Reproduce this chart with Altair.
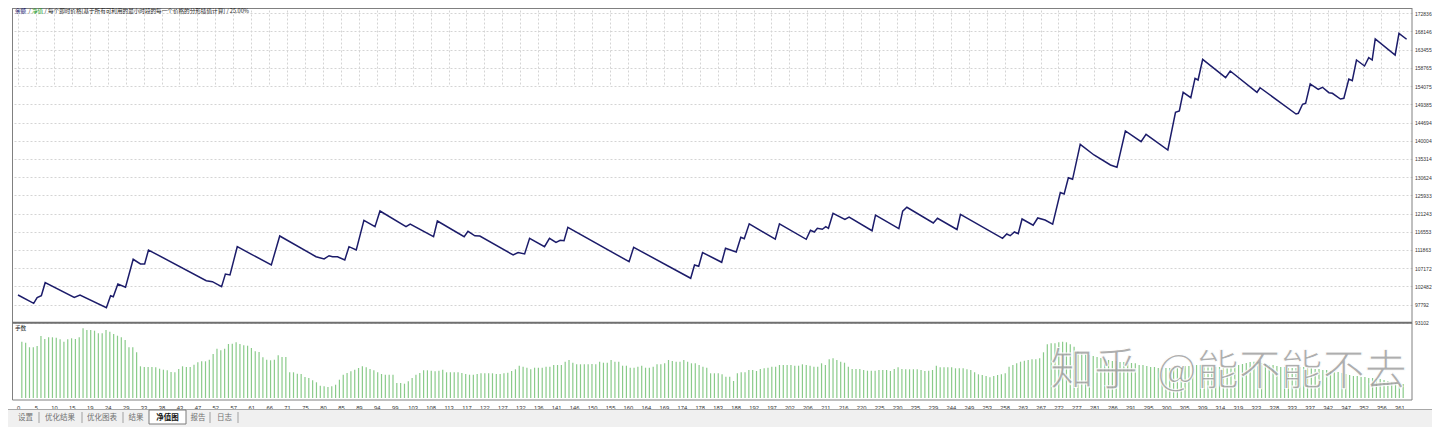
import json
import altair as alt
import pandas as pd

# ---------------- data ----------------
# equity curve vertices: trade number / equity
eq_trade = [0.0, 4.1, 5.0, 6.1, 7.1, 14.7, 16.2, 23.1, 24.2, 24.9,
            26.1, 28.1, 30.1, 32.0, 33.1, 34.1, 49.2, 50.8, 53.2, 54.2,
            55.4, 57.3, 66.2, 68.4, 77.9, 80.0, 81.3, 82.2, 83.5, 85.4,
            86.5, 88.4, 90.4, 93.3, 94.6, 101.4, 102.5, 108.6, 109.6, 116.6,
            117.6, 119.4, 120.7, 129.4, 130.7, 132.4, 133.7, 137.6, 138.9, 140.6,
            141.7, 142.7, 143.7, 159.7, 160.9, 175.8, 176.8, 177.9, 178.9, 183.9,
            184.9, 187.7, 188.9, 189.8, 191.1, 197.9, 199.0, 206.0, 207.1, 208.1,
            208.9, 210.2, 211.1, 211.8, 213.0, 216.1, 217.2, 223.2, 224.1, 230.2,
            231.2, 232.3, 239.2, 240.3, 245.4, 246.3, 257.3, 258.4, 259.3, 260.4,
            261.4, 262.4, 265.3, 266.5, 268.4, 270.4, 272.4, 273.4, 274.5, 275.6,
            277.6, 281.2, 285.5, 287.2, 289.4, 293.5, 294.8, 300.5, 302.5, 303.5,
            304.5, 306.5, 307.6, 308.4, 309.6, 315.6, 316.8, 323.8, 324.6, 334.0,
            334.6, 335.7, 336.5, 337.7, 339.8, 340.9, 342.6, 343.5, 345.6, 346.5,
            347.8, 348.7, 349.8, 351.9, 353.0, 353.9, 354.7, 359.9, 360.9, 362.9]
eq_value = [100240, 98100, 99550, 100060, 103410, 99600, 100240, 96970, 100060, 99800,
            103080, 102230, 109440, 108230, 108230, 111840, 103930, 103670, 102380, 105650,
            105400, 112690, 107970, 115450, 110110, 109520, 110370, 110110, 110110, 109260,
            112690, 111840, 119490, 117840, 121890, 117840, 118490, 115270, 119310, 115270,
            116660, 115500, 115450, 110550, 111190, 110810, 114850, 112690, 114850, 113820,
            114340, 114210, 117690, 108820, 112530, 104550, 107970, 107640, 111190, 108670,
            112280, 111320, 115110, 114750, 118590, 114620, 118590, 114600, 116920, 116480,
            117430, 117170, 117840, 117430, 121300, 119750, 120340, 116810, 120810, 117330,
            121840, 122840, 118800, 120010, 117120, 121040, 114850, 115960, 115520, 116480,
            116040, 119830, 118230, 120090, 119570, 118490, 126660, 126270, 130470, 130060,
            139080, 136320, 133740, 133150, 142510, 139750, 141650, 137610, 147320, 147660,
            152480, 151090, 156090, 155650, 160980, 156240, 157970, 152480, 153660, 146890,
            147070, 149390, 149640, 154620, 153250, 153770, 152380, 152220, 150750, 150930,
            155910, 155470, 160800, 159260, 161390, 160800, 166210, 162090, 167680, 166140]

# lower panel (手数), one bar per trade, relative units
lots_1 = [56.3, 55.3, 50.7, 50.7, 52, 62, 59, 60.7, 60.7, 60.3,
          58.7, 56.3, 58.7, 59.7, 59, 60.7, 69.7, 68, 68, 67.3,
          64.7, 64.7, 68, 66.3, 64, 62.3, 60.7, 58, 50.7, 50.7,
          45.7, 31.7, 31, 31, 31, 30.7, 29.3, 28.3, 27.7, 26,
          25.7, 29, 31.7, 31, 31, 33.3, 35.7, 36.7, 36.7, 38.3,
          44, 49.3, 47.7, 49.3, 54, 54.3, 55.7, 54, 52.7, 52.3,
          50, 46.7, 46, 40.7, 38.3, 37.7, 38.3, 42.7, 41, 41,
          25.7, 25.7, 24.3, 24, 21, 20, 17.7, 15.7, 12.3, 11.7,
          11, 11.7, 13.3, 18.3, 23.3, 25, 26.7, 28.3, 30, 31.7,
          30.7, 29, 27.7, 25.7, 24, 23.3, 23.3, 23.3, 15, 15,
          14.3, 16.7, 20, 23.3, 25, 27.7, 27.7, 27.3, 26.7, 27.3,
          28.3, 25.7, 25.7, 25.7, 25.7, 25, 24, 23.3, 23.3, 24]
lots_2 = [24.7, 24.7, 24.7, 24.7, 24, 24, 24.7, 25.3, 27, 28.7,
          32.3, 31.3, 30.3, 28.7, 30.3, 30.3, 30.3, 31.3, 31.3, 33,
          33, 33, 36.3, 38, 35.3, 33.7, 33.7, 33.7, 33.7, 34,
          33.7, 36.3, 35.3, 35.3, 38, 36.3, 36.3, 32.3, 32.3, 30.3,
          30.3, 31.3, 32.3, 30.3, 30.3, 31.3, 33.7, 33.7, 34.7, 38,
          37, 36.3, 36.3, 38, 36.3, 34.7, 34.7, 33, 31.3, 30.3,
          24.7, 24.7, 24.7, 23.7, 21.3, 21.3, 17, 24.7, 25.7, 25.7,
          28, 28, 27, 29, 29.7, 30.3, 31.3, 31.3, 33, 33,
          33, 33, 32.3, 32.3, 33.7, 33, 32.3, 31.3, 31.3, 34.7,
          33, 38.7, 39.7, 38, 36.3, 35.3, 31.3, 29, 29, 29,
          28, 27.3, 27.3, 27.3, 28, 28, 28, 27, 29, 30.7,
          29, 28.7, 28.7, 28.7, 28.7, 28, 27, 27.3, 28, 32.3,
          30.7, 30.7, 30.7, 30.7, 29.7]
lots_3 = [29.7, 29.7, 28.7, 28, 25.7, 23.7, 23, 22, 20.7, 22,
          23, 23.7, 24.7, 31.3, 33, 34.7, 36.3, 37.3, 38, 38.7,
          38.7, 39.7, 45.7, 53.7, 54.7, 54.7, 55.7, 56.3, 55.7, 53.7,
          51.3, 47, 45, 44, 43, 42, 41, 40, 39, 38,
          37, 37, 36, 36, 35, 35, 34.7, 33, 33, 32,
          31, 31, 30, 30, 30, 30, 30, 30, 31, 32,
          32, 33, 33, 33, 32, 32, 31, 31, 31, 30,
          30, 31, 32, 33, 34, 35, 36, 36.3, 36, 35,
          34, 33, 33, 32, 31, 31, 30, 30, 30, 31,
          31, 30, 30, 29, 29, 28, 28, 27, 26, 26,
          25, 24, 23, 22, 22, 21, 21, 20, 20, 19,
          19, 18, 17, 16, 15, 14, 14]
lots = lots_1 + lots_2 + lots_3
lot_trade = list(range(1, len(lots) + 1))

y_ticks = [93102, 97792, 102482, 107172, 111863, 116553, 121243, 125933, 130624,
           135314, 140004, 144694, 149385, 154075, 158765, 163455, 168146, 172836]
x_tick_labels = ["0", "5", "10", "15", "19", "24", "29", "33", "38", "43", "47", "52", "57",
                 "61", "66", "71", "75", "80", "85", "89", "94", "99", "103", "108", "113",
                 "117", "122", "127", "132", "136", "141", "146", "150", "155", "160", "164",
                 "169", "174", "178", "183", "188", "192", "197", "202", "206", "211", "216",
                 "220", "225", "230", "235", "239", "244", "249", "253", "258", "263", "267",
                 "272", "277", "281", "286", "291", "295", "300", "305", "309", "314", "319",
                 "323", "328", "333", "337", "342", "347", "352", "356", "361"]
tab_labels = ["设置", "优化结果", "优化图表", "结果", "净值图", "报告", "日志"]
title_parts = ["余额", "/", "净值", "/ 每个即时价格[基于所有可利用的最小时段的每一个价格的分形插值计算] / 25.00%"]
panel_label = "手数"
watermark = ["知乎", "@能不能不去"]

# ---------------- chart ----------------
W, H = 1399, 392
PAD_L, PAD_R = 5, 20
CJK = "Noto Sans CJK SC"
ONE = pd.DataFrame({"k": [0]})

last_label = int(x_tick_labels[-1])
n_grid = len(x_tick_labels) - 1
x_tick_pos = [k * last_label / n_grid for k in range(len(x_tick_labels))]
label_expr = json.dumps(x_tick_labels) + "[round(datum.value * %d / %d)]" % (n_grid, last_label)

x_enc = alt.X(
    "trade:Q",
    scale=alt.Scale(domain=[0, 363], nice=False, zero=False),
    axis=alt.Axis(values=x_tick_pos, labelExpr=label_expr, grid=True, gridColor="#d4d4d4",
                  gridDash=[2, 2], gridWidth=1, ticks=False, domain=False,
                  labelFont="Liberation Sans", labelFontSize=5.8, labelColor="#333333",
                  labelPadding=4, labelFlush=False, labelOverlap=False, title=None),
)

eq_df = pd.DataFrame({"trade": eq_trade, "equity": eq_value})
lot_df = pd.DataFrame({"trade": lot_trade, "lots": lots})

bars = alt.Chart(lot_df).mark_bar(size=1.2, color="#8acb8a").encode(
    x=x_enc,
    y=alt.Y("lots:Q", scale=alt.Scale(domain=[0, 75], range=[390, 315], nice=False, zero=True),
            axis=None),
)

line = alt.Chart(eq_df).mark_line(color="#1c1c6a", strokeWidth=1.5).encode(
    x=x_enc,
    y=alt.Y("equity:Q",
            scale=alt.Scale(domain=[93102, 172836], range=[314.7, 5.3], nice=False, zero=False),
            axis=alt.Axis(orient="right", values=y_ticks, format="d", grid=True,
                          gridColor="#d4d4d4", gridDash=[2, 2], gridWidth=1, ticks=False,
                          domain=False, labelFont="Liberation Sans", labelFontSize=5.0,
                          labelColor="#333333", labelPadding=2.5, labelAlign="left",
                          labelFlush=False, labelOverlap=False, title=None)),
)


def hline(x1, x2, y, color, w=1):
    return alt.Chart(ONE).mark_rule(color=color, strokeWidth=w).encode(
        x=alt.value(x1), x2=alt.value(x2), y=alt.value(y))


def vline(x, y1, y2, color, w=1):
    return alt.Chart(ONE).mark_rule(color=color, strokeWidth=w).encode(
        x=alt.value(x), y=alt.value(y1), y2=alt.value(y2))


def box(x1, x2, y1, y2, fill, stroke=None):
    kw = dict(fill=fill)
    if stroke:
        kw.update(stroke=stroke, strokeWidth=1)
    return alt.Chart(ONE).mark_rect(**kw).encode(
        x=alt.value(x1), x2=alt.value(x2), y=alt.value(y1), y2=alt.value(y2))


def label(txt, x, y, size, color="#222222", align="left", weight="normal", font=CJK, **kw):
    return alt.Chart(pd.DataFrame({"t": [txt]})).mark_text(
        align=align, baseline="middle", fontSize=size, font=font, color=color,
        fontWeight=weight, **kw).encode(text="t:N", x=alt.value(x), y=alt.value(y))


RIGHT = W + PAD_R
layers = [
    box(-PAD_L, RIGHT, 401.5, 419, "#f0f0f0"),
    hline(-PAD_L, RIGHT, 401.5, "#a8a8a8"),
    bars,
    line,
    # panel frames
    hline(-0.5, W, 0.5, "#808080"),
    vline(-0.5, 0, H, "#808080"),
    vline(W, 0, H, "#808080"),
    hline(-0.5, W, 314.7, "#707070", 2),
    hline(-0.5, W, H, "#808080"),
    # title pieces
    label(title_parts[0], 2, 3, 5.6, color="#10106a"),
    label(title_parts[1], 15.5, 3, 5.6),
    label(title_parts[2], 19, 3, 5.6, color="#1a9a1a"),
    label(title_parts[3], 31.5, 3, 5.6),
    label(panel_label, 2, 319.5, 5.6),
    # tabs
    box(136, 173, 402, 416, "#ffffff", "#7a7a7a"),
]
tab_x = [12.5, 47, 89, 123, 154.5, 185, 211.5]
for t, tx in zip(tab_labels, tab_x):
    active = t == "净值图"
    layers.append(label(t, tx, 409.5, 7.5, color="#111111" if active else "#707070",
                        align="center", weight="bold" if active else "normal"))
for sx in [26, 69, 110, 197, 225]:
    layers.append(vline(sx, 404, 415, "#a0a0a0"))

# watermark
layers.append(label(watermark[0], 1037, 364, 44, color="#a0a0a0", opacity=0.85,
                    stroke="#ffffff", strokeWidth=1))
layers.append(label(watermark[1], 1144, 364, 42, color="#a0a0a0", opacity=0.85,
                    stroke="#ffffff", strokeWidth=1))

chart = alt.layer(*layers).resolve_scale(y="independent").properties(
    width=W, height=H,
    padding={"left": PAD_L, "top": 0, "right": PAD_R, "bottom": 27},
    autosize=alt.AutoSizeParams(type="none"),
    background="white",
).configure_view(stroke=None)

chart.save("out.html", embed_options={"renderer": "svg", "actions": False})
